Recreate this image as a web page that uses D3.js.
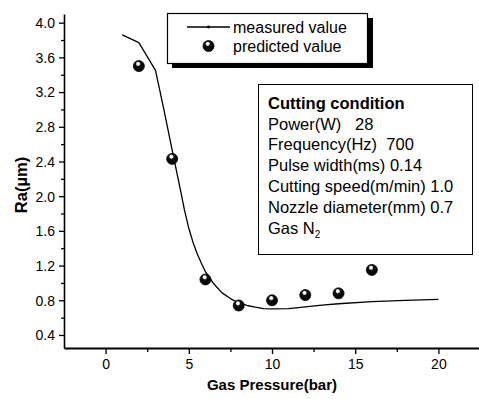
<!DOCTYPE html>
<html>
<head>
<meta charset="utf-8">
<script src="https://cdn.jsdelivr.net/npm/d3@7"></script>
<style>
  html, body { margin: 0; padding: 0; background: #fff; }
  svg { display: block; font-family: "Liberation Sans", Arial, sans-serif; }
</style>
</head>
<body>
<svg id="chart" width="479" height="399"></svg>
<script>
// Measured roughness curve (gas pressure in bar, Ra in µm)
const measuredPressure = [1, 2, 3, 3.5, 4, 4.5, 4.75, 5, 5.25, 5.5, 5.75, 6, 6.5, 7, 7.5, 8, 8.5, 9, 9.5, 10, 11, 12, 13, 14, 16, 18, 20];
const measuredRa       = [3.86, 3.77, 3.45, 3.0, 2.53, 2.07, 1.83, 1.63, 1.47, 1.34, 1.23, 1.13, 0.99, 0.885, 0.82, 0.77, 0.74, 0.72, 0.705, 0.70, 0.705, 0.725, 0.745, 0.76, 0.785, 0.80, 0.81];

// Predicted roughness points
const predictedPressure = [2, 4, 6, 8, 10, 12, 14, 16];
const predictedRa       = [3.50, 2.43, 1.04, 0.74, 0.80, 0.86, 0.88, 1.15];

// Axis ticks
const xTicks = [0, 5, 10, 15, 20];
const xMinorTicks = [2.5, 7.5, 12.5, 17.5];
const yTicks = [0.4, 0.8, 1.2, 1.6, 2.0, 2.4, 2.8, 3.2, 3.6, 4.0];
const yMinorTicks = [0.6, 1.0, 1.4, 1.8, 2.2, 2.6, 3.0, 3.4, 3.8];

// Legend and annotation text
const legendLabels = ["measured value", "predicted value"];
const conditionTitle = "Cutting condition";
const conditionLines = ["Power(W)   28", "Frequency(Hz)  700", "Pulse width(ms) 0.14",
                        "Cutting speed(m/min) 1.0", "Nozzle diameter(mm) 0.7"];

const svg = d3.select("#chart");

const x = d3.scaleLinear().domain([-2.5, 22.5]).range([64, 480]);
const y = d3.scaleLinear().domain([0.25, 4.1]).range([348, 14]);

// Shaded sphere marker
const defs = svg.append("defs");
const grad = defs.append("radialGradient")
  .attr("id", "ball").attr("cx", "45%").attr("cy", "35%").attr("r", "60%")
  .attr("fx", "42%").attr("fy", "28%");
grad.append("stop").attr("offset", "0%").attr("stop-color", "#fff");
grad.append("stop").attr("offset", "22%").attr("stop-color", "#eee");
grad.append("stop").attr("offset", "38%").attr("stop-color", "#111");
grad.append("stop").attr("offset", "100%").attr("stop-color", "#000");

// Axes
const yAxis = svg.append("g").attr("transform", `translate(${x.range()[0]},0)`)
  .call(d3.axisLeft(y).tickValues(yTicks).tickSize(5).tickSizeOuter(0).tickFormat(d3.format(".1f")));
const yMinor = svg.append("g").attr("transform", `translate(${x.range()[0]},0)`)
  .call(d3.axisLeft(y).tickValues(yMinorTicks).tickSize(3).tickSizeOuter(0).tickFormat(""));
const xAxis = svg.append("g").attr("transform", `translate(0,${y.range()[0]})`)
  .call(d3.axisBottom(x).tickValues(xTicks).tickSize(6).tickSizeOuter(0).tickFormat(d3.format("d")));
const xMinor = svg.append("g").attr("transform", `translate(0,${y.range()[0]})`)
  .call(d3.axisBottom(x).tickValues(xMinorTicks).tickSize(4).tickSizeOuter(0).tickFormat(""));

[yAxis, yMinor, xAxis, xMinor].forEach(g => {
  g.selectAll("line").attr("stroke", "#000").attr("stroke-width", 1.3);
  g.selectAll(".domain").attr("stroke", "#000");
});
yAxis.select(".domain").attr("stroke-width", 1.6);
xAxis.select(".domain").attr("stroke-width", 2.2);
yMinor.select(".domain").remove();
xMinor.select(".domain").remove();
yAxis.selectAll("text").attr("font-size", 14).attr("fill", "#000").attr("x", -9).attr("dy", "0.35em");
xAxis.selectAll("text").attr("font-size", 14).attr("fill", "#000").attr("y", 11);

// Axis titles
svg.append("text").attr("x", 272).attr("y", 390).attr("text-anchor", "middle")
  .attr("font-size", 15).attr("font-weight", "bold").text("Gas Pressure(bar)");
svg.append("text").attr("transform", "translate(27,185) rotate(-90)").attr("text-anchor", "middle")
  .attr("font-size", 16.5).attr("font-weight", "bold").text("Ra(\u00b5m)");

// Measured curve
const line = d3.line().x(d => x(d[0])).y(d => y(d[1])).curve(d3.curveLinear);
svg.append("path")
  .datum(measuredPressure.map((p, i) => [p, measuredRa[i]]))
  .attr("d", line).attr("fill", "none").attr("stroke", "#000").attr("stroke-width", 1.3)
  .attr("stroke-linejoin", "round");

// Predicted points
svg.append("g").selectAll("circle")
  .data(predictedPressure.map((p, i) => [p, predictedRa[i]]))
  .join("circle")
  .attr("cx", d => x(d[0])).attr("cy", d => y(d[1])).attr("r", 5.5)
  .attr("fill", "url(#ball)").attr("stroke", "#000").attr("stroke-width", 0.8);

// Legend box with drop shadow
const lg = svg.append("g");
lg.append("rect").attr("x", 172).attr("y", 18).attr("width", 201).attr("height", 50).attr("fill", "#000");
lg.append("rect").attr("x", 167.5).attr("y", 13.5).attr("width", 200).attr("height", 50)
  .attr("fill", "#fff").attr("stroke", "#000").attr("stroke-width", 1.2);
lg.append("line").attr("x1", 187).attr("x2", 230).attr("y1", 27).attr("y2", 27)
  .attr("stroke", "#000").attr("stroke-width", 1.3);
lg.append("circle").attr("cx", 208.5).attr("cy", 27).attr("r", 1.4).attr("fill", "#000");
lg.append("circle").attr("cx", 208.5).attr("cy", 46).attr("r", 5.5)
  .attr("fill", "url(#ball)").attr("stroke", "#000").attr("stroke-width", 0.8);
lg.selectAll("text.lab").data(legendLabels).join("text").attr("class", "lab")
  .attr("x", 233).attr("y", (d, i) => 32.5 + i * 19).attr("font-size", 16).text(d => d);

// Cutting condition box
const cb = svg.append("g");
cb.append("rect").attr("x", 258.5).attr("y", 84.5).attr("width", 214).attr("height", 170)
  .attr("fill", "#fff").attr("stroke", "#000").attr("stroke-width", 1);
cb.append("text").attr("x", 268).attr("y", 108.5).attr("font-size", 16.5).attr("font-weight", "bold")
  .text(conditionTitle);
cb.selectAll("text.cl").data(conditionLines).join("text").attr("class", "cl")
  .attr("x", 268).attr("y", (d, i) => 129.5 + i * 20.8).attr("font-size", 16.5)
  .attr("xml:space", "preserve").style("white-space", "pre").text(d => d);
const gas = cb.append("text").attr("x", 268).attr("y", 129.5 + 5 * 20.8).attr("font-size", 16.5);
gas.append("tspan").text("Gas N");
gas.append("tspan").attr("font-size", 10).attr("dy", 4).text("2");
</script>
</body>
</html>
